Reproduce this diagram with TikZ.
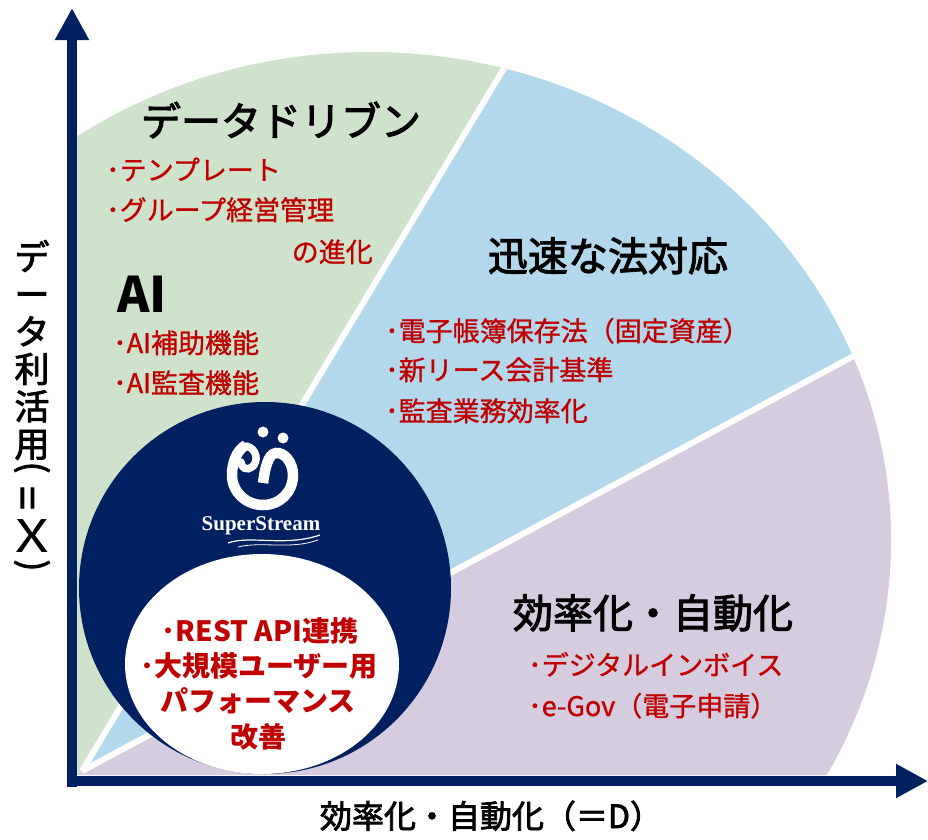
\documentclass[tikz,border=0pt]{standalone}
\usepackage{fontspec}
\setmainfont{Noto Sans CJK JP}
\newfontfamily\headfont{Noto Sans CJK JP}[FakeBold=2.5]
\newfontfamily\listfont{Noto Sans CJK JP}[FakeBold=1]
\newfontfamily\logofont{Liberation Serif}
\usetikzlibrary{arrows.meta}

\definecolor{navy}{RGB}{0,32,96}
\definecolor{leafgreen}{RGB}{207,226,204}
\definecolor{skyblue}{RGB}{179,216,236}
\definecolor{lilac}{RGB}{213,204,224}
\definecolor{itemred}{RGB}{192,0,0}

\tikzset{
  sectortitle/.style={font=\headfont\fontsize{40}{44}\selectfont, text=black, inner sep=0pt, anchor=base},
  redlist/.style={font=\listfont\fontsize{27}{32}\selectfont, text=itemred, inner sep=0pt, anchor=base west},
  corelist/.style={font=\bfseries\fontsize{28}{32}\selectfont, text=itemred, inner sep=0pt, anchor=base},
  ychar/.style={font=\headfont\fontsize{35}{37.4}\selectfont, inner sep=0pt},
  axisarrow/.style={navy, line width=10pt, -{Triangle[length=32pt,width=32pt]}},
  splitline/.style={white, line width=6pt},
}

\begin{document}
\begin{tikzpicture}[x=1pt, y=-1pt]
    \useasboundingbox (0,0) rectangle (928,839);

    % Corner of the three sectors and where the gaps leave the picture
    \coordinate (apex) at (82,771);
    \coordinate (splitA) at (545,0);
    \coordinate (splitB) at (928,316);

    % Draw the three sectors
    \begin{scope}
        \clip (77,0) rectangle (928,775);
        \clip (370,540) ellipse [x radius=521pt, y radius=488pt];
        \fill[leafgreen] (apex) -- (77,775) -- (77,0) -- (splitA) -- cycle;
        \fill[skyblue] (apex) -- (splitA) -- (928,0) -- (splitB) -- cycle;
        \fill[lilac] (apex) -- (splitB) -- (928,775) -- (77,775) -- cycle;
        \draw[splitline] (apex) -- (splitA);
        \draw[splitline] (apex) -- (splitB);
    \end{scope}

    % SuperStream circle
    \fill[navy] (265,588) circle (186pt);
    \fill[white] (262,664) ellipse [x radius=137pt, y radius=110pt];

    % Logo
    \draw[white, line width=10.5pt] (246,445) .. controls (237,450) and (232,462) .. (232,475)
        .. controls (232,492) and (246,505) .. (263,505)
        .. controls (280,505) and (293,492) .. (293,475)
        .. controls (293,462) and (284,452) .. (276,453)
        .. controls (268,454) and (265,468) .. (263,483);
    \draw[white, line width=7.5pt, line cap=round] (246,446) .. controls (257,448) and (259,462) .. (252,467)
        .. controls (247,471) and (241,468) .. (241,462);
    \fill[white] (263,432) circle (5.5pt);
    \fill[white] (283,438) circle (5.5pt);
    \node[text=white, inner sep=0pt, anchor=base, font=\logofont\bfseries\fontsize{21}{24}\selectfont] (logotext) at (261,530) {SuperStream};
    \draw[white, line width=1.2pt] (228,543) .. controls (250,535) and (285,547) .. (320,535);
    \draw[white, line width=0.8pt] (238,547) .. controls (262,541) and (290,550) .. (318,540);

    % Axes
    \coordinate (ybottom) at (72,787);
    \coordinate (ytop) at (72,8);
    \coordinate (xleft) at (67,781);
    \coordinate (xright) at (928,781);
    \draw[axisarrow] (ybottom) -- (ytop);
    \draw[axisarrow] (xleft) -- (xright);

    % Axis labels (vertical writing on the y axis)
    \node[ychar, align=center] (ylabel) at (32,350) {デ\\ー\\タ\\利\\活\\用};
    \node[ychar] (yparenl) at (32,470) {\rotatebox[origin=c]{-90}{(}};
    \node[ychar, font=\headfont\fontsize{42}{44}\selectfont] (yequals) at (32,498) {\rotatebox[origin=c]{90}{=}};
    \node[ychar, font=\fontsize{45}{48}\selectfont] (yx) at (32,536) {\scalebox{1.3}[1]{X}};
    \node[ychar] (yparenr) at (32,568) {\rotatebox[origin=c]{-90}{)}};
    \node[inner sep=0pt, anchor=base, font=\headfont\fontsize{32}{36}\selectfont] (xlabel) at (491,828) {効率化・自動化（＝D）};

    % Data driven sector
    \node[sectortitle] (ddtitle) at (281,136) {データドリブン};
    \node[redlist] (ddtemplate) at (106,180) {･テンプレート};
    \node[redlist] (ddgroup) at (106,220) {･グループ経営管理};
    \node[redlist, anchor=base east] (ddgroupb) at (373,262) {の進化};
    \node[font=\bfseries\fontsize{49}{52}\selectfont, inner sep=0pt, anchor=base west] (aititle) at (117,312) {AI};
    \node[redlist] (aiassist) at (113,353) {･AI補助機能};
    \node[redlist] (aiaudit) at (113,393) {･AI監査機能};

    % Law sector
    \node[sectortitle] (lawtitle) at (608,271) {迅速な法対応};
    \node[redlist] (lawbooks) at (385,341) {･電子帳簿保存法（固定資産）};
    \node[redlist] (lawlease) at (385,380) {･新リース会計基準};
    \node[redlist] (lawaudit) at (385,421) {･監査業務効率化};

    % Efficiency sector
    \node[sectortitle] (efftitle) at (653,628) {効率化・自動化};
    \node[redlist] (effinvoice) at (528,675) {･デジタルインボイス};
    \node[redlist] (effegov) at (528,716) {･e-Gov（電子申請）};

    % Inside the white ellipse
    \node[corelist] (corerest) at (260,641) {･REST API連携};
    \node[corelist] (corelarge) at (259,676) {･大規模ユーザー用};
    \node[corelist] (coreperf) at (258,711) {パフォーマンス};
    \node[corelist] (corebetter) at (258,747) {改善};
\end{tikzpicture}
\end{document}
